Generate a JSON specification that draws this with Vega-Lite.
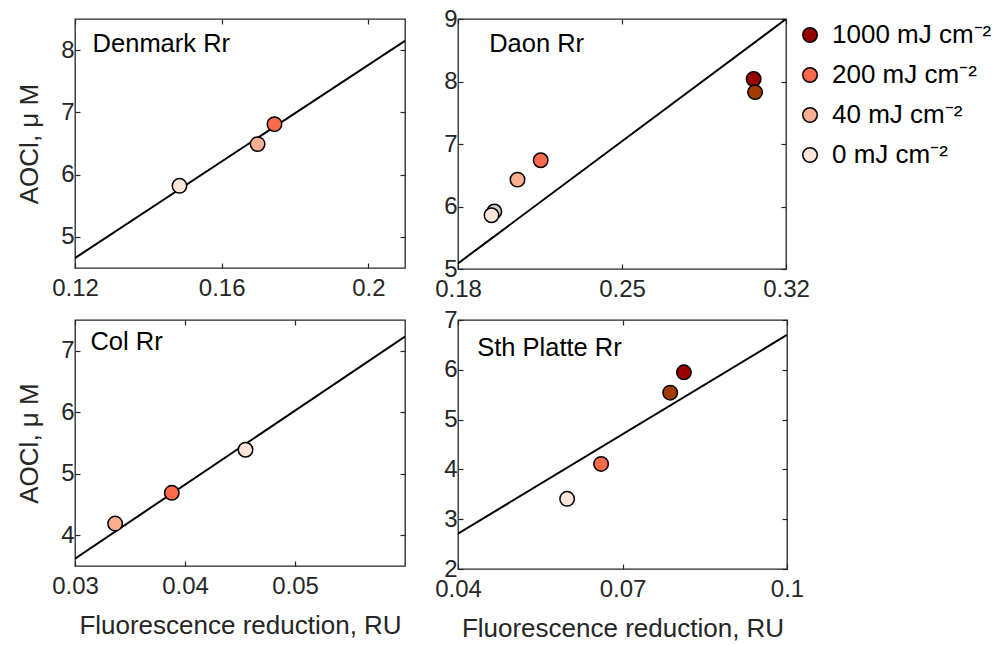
{
  "$schema": "https://vega.github.io/schema/vega-lite/v6.json",
  "padding": {"left": 16, "top": 6, "right": 0, "bottom": 0},
  "spacing": 5,
  "datasets": {
    "pts": [
      {"panel": "Denmark Rr", "dose": "0 mJ cm⁻²", "fr": 0.1485, "aocl": 5.82},
      {"panel": "Denmark Rr", "dose": "40 mJ cm⁻²", "fr": 0.1698, "aocl": 6.49},
      {"panel": "Denmark Rr", "dose": "200 mJ cm⁻²", "fr": 0.1744, "aocl": 6.81},
      {"panel": "Daon Rr", "dose": "0 mJ cm⁻² (repeat)", "fr": 0.1955, "aocl": 5.92},
      {"panel": "Daon Rr", "dose": "0 mJ cm⁻²", "fr": 0.1943, "aocl": 5.86},
      {"panel": "Daon Rr", "dose": "40 mJ cm⁻²", "fr": 0.2054, "aocl": 6.43},
      {"panel": "Daon Rr", "dose": "200 mJ cm⁻²", "fr": 0.2153, "aocl": 6.74},
      {"panel": "Daon Rr", "dose": "1000 mJ cm⁻²", "fr": 0.3062, "aocl": 8.04},
      {"panel": "Daon Rr", "dose": "1000 mJ cm⁻² (repeat)", "fr": 0.3068, "aocl": 7.83},
      {"panel": "Col Rr", "dose": "40 mJ cm⁻²", "fr": 0.03365, "aocl": 4.19},
      {"panel": "Col Rr", "dose": "200 mJ cm⁻²", "fr": 0.0388, "aocl": 4.69},
      {"panel": "Col Rr", "dose": "0 mJ cm⁻²", "fr": 0.0455, "aocl": 5.39},
      {"panel": "Sth Platte Rr", "dose": "0 mJ cm⁻²", "fr": 0.0599, "aocl": 3.41},
      {"panel": "Sth Platte Rr", "dose": "200 mJ cm⁻²", "fr": 0.0661, "aocl": 4.11},
      {"panel": "Sth Platte Rr", "dose": "1000 mJ cm⁻² (repeat)", "fr": 0.0787, "aocl": 5.54},
      {"panel": "Sth Platte Rr", "dose": "1000 mJ cm⁻²", "fr": 0.0812, "aocl": 5.95}
    ],
    "fits": [
      {"panel": "Denmark Rr", "fr": 0.12, "aocl": 4.66},
      {"panel": "Denmark Rr", "fr": 0.21, "aocl": 8.15},
      {"panel": "Daon Rr", "fr": 0.18, "aocl": 5.09},
      {"panel": "Daon Rr", "fr": 0.32, "aocl": 9.0},
      {"panel": "Col Rr", "fr": 0.03, "aocl": 3.62},
      {"panel": "Col Rr", "fr": 0.06, "aocl": 7.23},
      {"panel": "Sth Platte Rr", "fr": 0.04, "aocl": 2.71},
      {"panel": "Sth Platte Rr", "fr": 0.1, "aocl": 6.7}
    ],
    "labels": [
      {"panel": "Denmark Rr", "fr": 0.1248, "aocl": 8.1},
      {"panel": "Daon Rr", "fr": 0.1933, "aocl": 8.6},
      {"panel": "Col Rr", "fr": 0.0314, "aocl": 7.14},
      {"panel": "Sth Platte Rr", "fr": 0.0435, "aocl": 6.43}
    ]
  },
  "config": {
    "font": "Liberation Sans",
    "view": {"stroke": "#262626", "strokeWidth": 1.3},
    "axis": {
      "grid": false,
      "domain": false,
      "labelFontSize": 24,
      "titleFontSize": 26,
      "labelColor": "#262626",
      "titleColor": "#262626",
      "titleFontWeight": "normal",
      "tickColor": "#262626",
      "tickSize": -5,
      "tickWidth": 1.2,
      "labelFlush": false,
      "labelOverlap": false,
      "format": "~g"
    },
    "axisX": {"labelPadding": 13, "titlePadding": 14},
    "axisY": {"labelPadding": 6, "titlePadding": 18},
    "legend": {
      "labelFontSize": 26,
      "labelColor": "#000000",
      "symbolStrokeColor": "#000000",
      "symbolStrokeWidth": 1.5,
      "symbolSize": 210,
      "symbolType": "circle",
      "labelOffset": 9,
      "rowPadding": 14
    }
  },
  "vconcat": [
    {
      "bounds": "flush",
      "spacing": 53,
      "hconcat": [
        {
          "width": 330, "height": 249,
          "resolve": {"axis": {"x": "independent", "y": "independent"}},
          "layer": [
            {
              "data": {"name": "fits"},
              "transform": [{"filter": "datum.panel === 'Denmark Rr'"}],
              "mark": {"type": "line", "color": "#000000", "strokeWidth": 2, "clip": true},
              "encoding": {
                "x": {"field": "fr", "type": "quantitative", "scale": {"domain": [0.12, 0.21], "nice": false, "zero": false}, "axis": {"values": [0.12, 0.16, 0.2], "title": null}},
                "y": {"field": "aocl", "type": "quantitative", "scale": {"domain": [4.5, 8.5], "nice": false, "zero": false}, "axis": {"values": [5, 6, 7, 8], "title": "AOCl, μ M"}}
              }
            },
            {
              "data": {"name": "pts"},
              "transform": [{"filter": "datum.panel === 'Denmark Rr'"}],
              "mark": {"type": "circle", "size": 210, "stroke": "#000000", "strokeWidth": 1.5, "opacity": 1},
              "encoding": {
                "x": {"field": "fr", "type": "quantitative", "axis": {"orient": "top", "values": [0.12, 0.16, 0.2], "labels": false, "title": null}},
                "y": {"field": "aocl", "type": "quantitative", "axis": {"orient": "right", "values": [5, 6, 7, 8], "labels": false, "title": null}},
                "fill": {
                  "field": "dose", "type": "nominal",
                  "scale": {
                    "domain": ["1000 mJ cm⁻²", "200 mJ cm⁻²", "40 mJ cm⁻²", "0 mJ cm⁻²", "1000 mJ cm⁻² (repeat)", "0 mJ cm⁻² (repeat)"],
                    "range": ["#990000", "#fb6a4a", "#fcae91", "#fee5d9", "#a33a00", "#d0d0d0"]
                  },
                  "legend": {"orient": "right", "offset": -17, "padding": 3, "title": null, "values": ["1000 mJ cm⁻²", "200 mJ cm⁻²", "40 mJ cm⁻²", "0 mJ cm⁻²"]}
                }
              }
            },
            {
              "data": {"name": "labels"},
              "transform": [{"filter": "datum.panel === 'Denmark Rr'"}],
              "mark": {"type": "text", "align": "left", "baseline": "middle", "fontSize": 25.5, "color": "#000000"},
              "encoding": {
                "x": {"field": "fr", "type": "quantitative", "axis": null},
                "y": {"field": "aocl", "type": "quantitative", "axis": null},
                "text": {"field": "panel"}
              }
            }
          ]
        },
        {
          "width": 328, "height": 250,
          "resolve": {"axis": {"x": "independent", "y": "independent"}},
          "layer": [
            {
              "data": {"name": "fits"},
              "transform": [{"filter": "datum.panel === 'Daon Rr'"}],
              "mark": {"type": "line", "color": "#000000", "strokeWidth": 2, "clip": true},
              "encoding": {
                "x": {"field": "fr", "type": "quantitative", "scale": {"domain": [0.18, 0.32], "nice": false, "zero": false}, "axis": {"values": [0.18, 0.25, 0.32], "title": null}},
                "y": {"field": "aocl", "type": "quantitative", "scale": {"domain": [5, 9], "nice": false, "zero": false}, "axis": {"values": [5, 6, 7, 8, 9], "title": null}}
              }
            },
            {
              "data": {"name": "pts"},
              "transform": [{"filter": "datum.panel === 'Daon Rr'"}],
              "mark": {"type": "circle", "size": 210, "stroke": "#000000", "strokeWidth": 1.5, "opacity": 1},
              "encoding": {
                "x": {"field": "fr", "type": "quantitative", "axis": {"orient": "top", "values": [0.18, 0.25, 0.32], "labels": false, "title": null}},
                "y": {"field": "aocl", "type": "quantitative", "axis": {"orient": "right", "values": [5, 6, 7, 8, 9], "labels": false, "title": null}},
                "fill": {"field": "dose", "type": "nominal"}
              }
            },
            {
              "data": {"name": "labels"},
              "transform": [{"filter": "datum.panel === 'Daon Rr'"}],
              "mark": {"type": "text", "align": "left", "baseline": "middle", "fontSize": 25.5, "color": "#000000"},
              "encoding": {
                "x": {"field": "fr", "type": "quantitative", "axis": null},
                "y": {"field": "aocl", "type": "quantitative", "axis": null},
                "text": {"field": "panel"}
              }
            }
          ]
        }
      ]
    },
    {
      "bounds": "flush",
      "spacing": 53,
      "hconcat": [
        {
          "width": 330, "height": 246,
          "resolve": {"axis": {"x": "independent", "y": "independent"}},
          "layer": [
            {
              "data": {"name": "fits"},
              "transform": [{"filter": "datum.panel === 'Col Rr'"}],
              "mark": {"type": "line", "color": "#000000", "strokeWidth": 2, "clip": true},
              "encoding": {
                "x": {"field": "fr", "type": "quantitative", "scale": {"domain": [0.03, 0.06], "nice": false, "zero": false}, "axis": {"values": [0.03, 0.04, 0.05], "title": "Fluorescence reduction, RU"}},
                "y": {"field": "aocl", "type": "quantitative", "scale": {"domain": [3.5, 7.5], "nice": false, "zero": false}, "axis": {"values": [4, 5, 6, 7], "title": "AOCl, μ M"}}
              }
            },
            {
              "data": {"name": "pts"},
              "transform": [{"filter": "datum.panel === 'Col Rr'"}],
              "mark": {"type": "circle", "size": 210, "stroke": "#000000", "strokeWidth": 1.5, "opacity": 1},
              "encoding": {
                "x": {"field": "fr", "type": "quantitative", "axis": {"orient": "top", "values": [0.03, 0.04, 0.05], "labels": false, "title": null}},
                "y": {"field": "aocl", "type": "quantitative", "axis": {"orient": "right", "values": [4, 5, 6, 7], "labels": false, "title": null}},
                "fill": {"field": "dose", "type": "nominal"}
              }
            },
            {
              "data": {"name": "labels"},
              "transform": [{"filter": "datum.panel === 'Col Rr'"}],
              "mark": {"type": "text", "align": "left", "baseline": "middle", "fontSize": 25.5, "color": "#000000"},
              "encoding": {
                "x": {"field": "fr", "type": "quantitative", "axis": null},
                "y": {"field": "aocl", "type": "quantitative", "axis": null},
                "text": {"field": "panel"}
              }
            }
          ]
        },
        {
          "width": 329, "height": 249,
          "resolve": {"axis": {"x": "independent", "y": "independent"}},
          "layer": [
            {
              "data": {"name": "fits"},
              "transform": [{"filter": "datum.panel === 'Sth Platte Rr'"}],
              "mark": {"type": "line", "color": "#000000", "strokeWidth": 2, "clip": true},
              "encoding": {
                "x": {"field": "fr", "type": "quantitative", "scale": {"domain": [0.04, 0.1], "nice": false, "zero": false}, "axis": {"values": [0.04, 0.07, 0.1], "title": "Fluorescence reduction, RU"}},
                "y": {"field": "aocl", "type": "quantitative", "scale": {"domain": [2, 7], "nice": false, "zero": false}, "axis": {"values": [2, 3, 4, 5, 6, 7], "title": null}}
              }
            },
            {
              "data": {"name": "pts"},
              "transform": [{"filter": "datum.panel === 'Sth Platte Rr'"}],
              "mark": {"type": "circle", "size": 210, "stroke": "#000000", "strokeWidth": 1.5, "opacity": 1},
              "encoding": {
                "x": {"field": "fr", "type": "quantitative", "axis": {"orient": "top", "values": [0.04, 0.07, 0.1], "labels": false, "title": null}},
                "y": {"field": "aocl", "type": "quantitative", "axis": {"orient": "right", "values": [2, 3, 4, 5, 6, 7], "labels": false, "title": null}},
                "fill": {"field": "dose", "type": "nominal"}
              }
            },
            {
              "data": {"name": "labels"},
              "transform": [{"filter": "datum.panel === 'Sth Platte Rr'"}],
              "mark": {"type": "text", "align": "left", "baseline": "middle", "fontSize": 25.5, "color": "#000000"},
              "encoding": {
                "x": {"field": "fr", "type": "quantitative", "axis": null},
                "y": {"field": "aocl", "type": "quantitative", "axis": null},
                "text": {"field": "panel"}
              }
            }
          ]
        }
      ]
    }
  ]
}
